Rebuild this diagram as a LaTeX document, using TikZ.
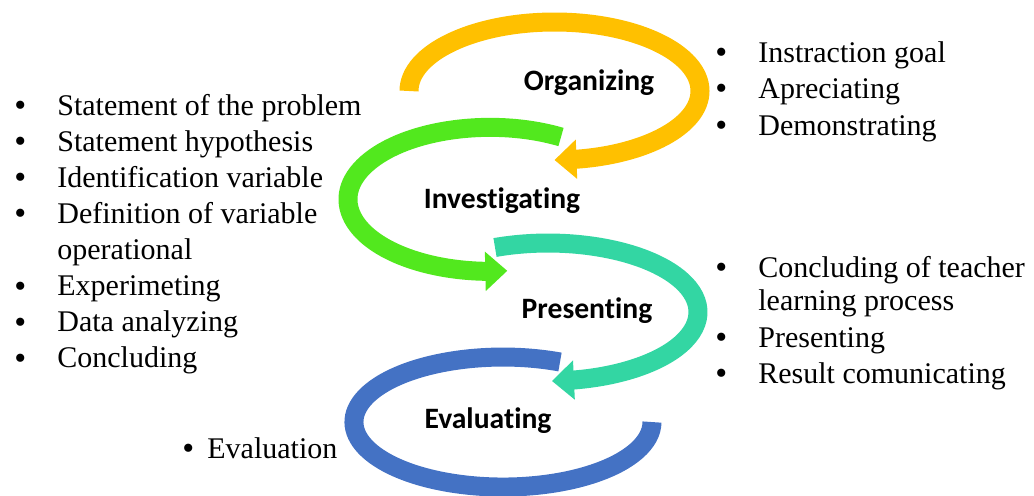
\documentclass[tikz,border=0pt]{standalone}
\usepackage{fontspec}
\setmainfont{Liberation Serif}
\newfontfamily\stagefont[Ligatures=NoCommon]{Carlito}
\usepackage{tikz}
\usetikzlibrary{arrows.meta,bending}

\definecolor{orgyellow}{HTML}{FFC000}
\definecolor{invgreen}{HTML}{52E81E}
\definecolor{presteal}{HTML}{33D6A3}
\definecolor{evalblue}{HTML}{4472C4}

\newcommand{\bigbul}{\smash{\raisebox{-0.8pt}{\fontsize{17}{17}\selectfont\textbullet}}}

\begin{document}
\begin{tikzpicture}[x=0.5pt, y=0.5pt,
    band/.style={line width=9.5pt},
    tip/.style={-{Triangle[width=19pt,length=11pt]}},
    stage/.style={font=\stagefont\bfseries\fontsize{14.8}{17}\selectfont, inner sep=0pt, anchor=base},
    item/.style={font=\fontsize{15}{18}\selectfont, inner sep=0pt, anchor=base west}]
    \useasboundingbox (0,0) rectangle (1034,495);

    % Evaluating part
    \draw[band, evalblue] (560,133) arc[start angle=67.5, end angle=360, x radius=149, y radius=65];
    \node[stage] (eval) at (488,67) {Evaluating};

    % Presenting part
    \draw[band, presteal, tip] (495,247.5) arc[start angle=110.7, end angle=-88.5, x radius=150, y radius=69];
    \node[stage] (pres) at (587,177) {Presenting};

    % Investigating part
    \draw[band, invgreen, tip] (561,358) arc[start angle=60, end angle=277, x radius=142, y radius=72];
    \node[stage] (inv) at (502,287) {Investigating};

    % Organizing part
    \draw[band, orgyellow, tip] (409,404) arc[start angle=180, end angle=-90, x radius=145.5, y radius=69];
    \node[stage] (org) at (589,405) {Organizing};

    % left list (investigating)
    \node[item] (inv1) at (14,380) {\makebox[21.5pt][l]{\bigbul}Statement of the problem};
    \node[item] (inv2) at (14,344) {\makebox[21.5pt][l]{\bigbul}Statement hypothesis};
    \node[item] (inv3) at (14,308) {\makebox[21.5pt][l]{\bigbul}Identification variable};
    \node[item] (inv4) at (14,272) {\makebox[21.5pt][l]{\bigbul}Definition of variable};
    \node[item] (inv4b) at (57,236) {operational};
    \node[item] (inv5) at (14,199.5) {\makebox[21.5pt][l]{\bigbul}Experimeting};
    \node[item] (inv6) at (14,163.5) {\makebox[21.5pt][l]{\bigbul}Data analyzing};
    \node[item] (inv7) at (14,127.5) {\makebox[21.5pt][l]{\bigbul}Concluding};

    % right list (organizing)
    \node[item] (org1) at (715,433) {\makebox[21.5pt][l]{\bigbul}Instraction goal};
    \node[item] (org2) at (715,397) {\makebox[21.5pt][l]{\bigbul}Apreciating};
    \node[item] (org3) at (715,360) {\makebox[21.5pt][l]{\bigbul}Demonstrating};

    % right list (presenting)
    \node[item] (pres1) at (715,218) {\makebox[21.5pt][l]{\bigbul}Concluding of teacher};
    \node[item] (pres1b) at (758,185) {learning process};
    \node[item] (pres2) at (715,148) {\makebox[21.5pt][l]{\bigbul}Presenting};
    \node[item] (pres3) at (715,112) {\makebox[21.5pt][l]{\bigbul}Result comunicating};

    % bottom (evaluating)
    \node[item] (eval1) at (182,37) {\makebox[12.5pt][l]{\bigbul}Evaluation};
\end{tikzpicture}
\end{document}
